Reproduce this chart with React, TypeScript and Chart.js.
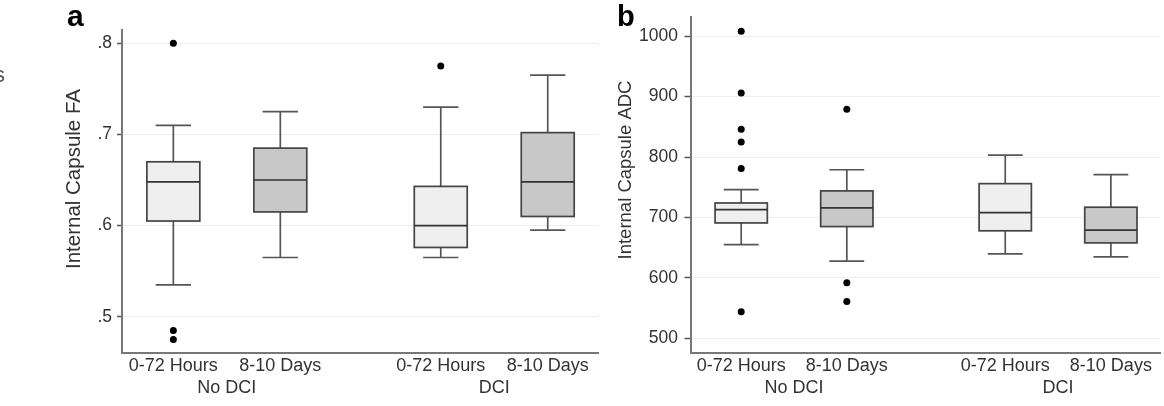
import React, { useEffect, useRef } from 'react';
import { Chart, registerables } from 'chart.js';

Chart.register(...registerables);

// ---------- data ----------
const positions = [1, 2, 3.5, 4.5];
const timeLabels = ['0-72 Hours', '8-10 Days', '0-72 Hours', '8-10 Days'];
const groupPositions = [1.5, 4];
const groupLabels = ['No DCI', 'DCI'];

// Panel a: Internal Capsule FA
const faTicks = [0.5, 0.6, 0.7, 0.8];
const faTickLabels = ['.5', '.6', '.7', '.8'];
const faLow = [0.535, 0.565, 0.565, 0.595];
const faQ1 = [0.605, 0.615, 0.576, 0.61];
const faMedian = [0.648, 0.65, 0.6, 0.648];
const faQ3 = [0.67, 0.685, 0.643, 0.702];
const faHigh = [0.71, 0.725, 0.73, 0.765];
const faOutlierX = [1, 1, 1, 3.5];
const faOutlierY = [0.8, 0.485, 0.475, 0.775];

// Panel b: Internal Capsule ADC
const adcTicks = [500, 600, 700, 800, 900, 1000];
const adcTickLabels = ['500', '600', '700', '800', '900', '1000'];
const adcLow = [655, 628, 640, 635];
const adcQ1 = [691, 685, 678, 658];
const adcMedian = [713, 716, 708, 679];
const adcQ3 = [724, 744, 756, 717];
const adcHigh = [746, 779, 803, 771];
const adcOutlierX = [1, 1, 1, 1, 1, 1, 2, 2, 2];
const adcOutlierY = [1008, 906, 846, 825, 781, 544, 879, 592, 561];

// ---------- styling ----------
const FONT = "'Liberation Sans', Arial, Helvetica, sans-serif";
const TEXT = '#333333';
const FILLS = ['#efefef', '#c8c8c8', '#efefef', '#c8c8c8'];
const BOX_W = 0.495;
const CAP_W = 0.33;

type BoxData = {
  low: number[]; q1: number[]; med: number[]; q3: number[]; high: number[];
};

function makeBoxPlugin(d: BoxData) {
  return {
    id: 'boxes',
    beforeDatasetsDraw(chart: any) {
      const { ctx } = chart;
      const xs = chart.scales.x;
      const ys = chart.scales.y;
      ctx.save();
      ctx.lineWidth = 1.7;
      ctx.lineCap = 'butt';
      positions.forEach((p, i) => {
        const cx = xs.getPixelForValue(p);
        const half = xs.getPixelForValue(p + BOX_W / 2) - cx;
        const cap = xs.getPixelForValue(p + CAP_W / 2) - cx;
        const yLow = ys.getPixelForValue(d.low[i]);
        const yQ1 = ys.getPixelForValue(d.q1[i]);
        const yMed = ys.getPixelForValue(d.med[i]);
        const yQ3 = ys.getPixelForValue(d.q3[i]);
        const yHigh = ys.getPixelForValue(d.high[i]);
        // whiskers
        ctx.strokeStyle = '#555555';
        ctx.beginPath();
        ctx.moveTo(cx, yQ3); ctx.lineTo(cx, yHigh);
        ctx.moveTo(cx - cap, yHigh); ctx.lineTo(cx + cap, yHigh);
        ctx.moveTo(cx, yQ1); ctx.lineTo(cx, yLow);
        ctx.moveTo(cx - cap, yLow); ctx.lineTo(cx + cap, yLow);
        ctx.stroke();
        // box
        ctx.fillStyle = FILLS[i];
        ctx.fillRect(cx - half, yQ3, 2 * half, yQ1 - yQ3);
        ctx.strokeStyle = '#444444';
        ctx.strokeRect(cx - half, yQ3, 2 * half, yQ1 - yQ3);
        // median
        ctx.strokeStyle = '#333333';
        ctx.beginPath();
        ctx.moveTo(cx - half, yMed); ctx.lineTo(cx + half, yMed);
        ctx.stroke();
      });
      ctx.restore();
    },
  };
}

type TextItem = { text: string; x: number; y: number; font: string; color: string; rotate?: boolean };

function makeTextPlugin(items: TextItem[]) {
  return {
    id: 'panelText',
    afterDraw(chart: any) {
      const { ctx } = chart;
      items.forEach((t) => {
        ctx.save();
        ctx.font = t.font;
        ctx.fillStyle = t.color;
        if (t.rotate) {
          ctx.translate(t.x, t.y);
          ctx.rotate(-Math.PI / 2);
          ctx.textAlign = 'center';
          ctx.textBaseline = 'middle';
          ctx.fillText(t.text, 0, 0);
        } else {
          ctx.textAlign = 'left';
          ctx.textBaseline = 'alphabetic';
          ctx.fillText(t.text, t.x, t.y);
        }
        ctx.restore();
      });
    },
  };
}

type PanelSpec = {
  box: BoxData;
  outX: number[];
  outY: number[];
  yTicks: number[];
  yTickLabels: string[];
  yMin: number;
  yMax: number;
  yWidth: number;
  tickLen: number;
  tickPad: number;
  padTop: number;
  padRight: number;
  texts: TextItem[];
};

function buildConfig(s: PanelSpec): any {
  return {
    type: 'scatter',
    data: {
      datasets: [
        {
          data: s.outX.map((x, i) => ({ x, y: s.outY[i] })),
          pointRadius: 3.5,
          pointHoverRadius: 3.5,
          backgroundColor: '#000000',
          borderWidth: 0,
        },
      ],
    },
    options: {
      animation: false,
      responsive: false,
      maintainAspectRatio: false,
      events: [],
      layout: { padding: { top: s.padTop, right: s.padRight, left: 0, bottom: 0 } },
      plugins: { legend: { display: false }, tooltip: { enabled: false } },
      scales: {
        x: {
          type: 'linear',
          position: 'bottom',
          weight: 0,
          min: 0.52,
          max: 4.97,
          afterBuildTicks: (sc: any) => { sc.ticks = positions.map((v) => ({ value: v })); },
          afterFit: (sc: any) => { sc.height = 24; },
          grid: { display: true, color: 'rgba(0,0,0,0)', drawTicks: false },
          border: { display: true, color: '#777777', width: 2 },
          ticks: {
            autoSkip: false,
            maxRotation: 0,
            minRotation: 0,
            padding: 2,
            color: TEXT,
            font: { family: FONT, size: 18 },
            callback: (_v: any, i: number) => timeLabels[i],
          },
        },
        x2: {
          type: 'linear',
          position: 'bottom',
          weight: 1,
          min: 0.52,
          max: 4.97,
          afterBuildTicks: (sc: any) => { sc.ticks = groupPositions.map((v) => ({ value: v })); },
          afterFit: (sc: any) => { sc.height = 29; },
          grid: { display: false, drawTicks: false },
          border: { display: false },
          ticks: {
            autoSkip: false,
            maxRotation: 0,
            minRotation: 0,
            padding: 0,
            color: TEXT,
            font: { family: FONT, size: 18 },
            callback: (_v: any, i: number) => groupLabels[i],
          },
        },
        y: {
          type: 'linear',
          position: 'left',
          min: s.yMin,
          max: s.yMax,
          afterBuildTicks: (sc: any) => { sc.ticks = s.yTicks.map((v) => ({ value: v })); },
          afterFit: (sc: any) => { sc.width = s.yWidth; },
          grid: {
            color: '#ebefef',
            lineWidth: 1,
            tickColor: '#555555',
            tickLength: s.tickLen,
            tickWidth: 1.5,
          },
          border: { display: true, color: '#777777', width: 2 },
          ticks: {
            padding: s.tickPad,
            color: TEXT,
            font: { family: FONT, size: 17.5 },
            callback: (_v: any, i: number) => s.yTickLabels[i],
          },
        },
      },
    },
    plugins: [makeBoxPlugin(s.box), makeTextPlugin(s.texts)],
  };
}

const panelA: PanelSpec = {
  box: { low: faLow, q1: faQ1, med: faMedian, q3: faQ3, high: faHigh },
  outX: faOutlierX,
  outY: faOutlierY,
  yTicks: faTicks,
  yTickLabels: faTickLabels,
  yMin: 0.4602,
  yMax: 0.8146,
  yWidth: 122,
  tickLen: 5,
  tickPad: 5,
  padTop: 30,
  padRight: 7,
  texts: [
    { text: 'a', x: 67, y: 26, font: `bold 30px ${FONT}`, color: '#000000' },
    { text: 's', x: -6, y: 82, font: `22px ${FONT}`, color: '#555555' },
    { text: 'Internal Capsule FA', x: 74, y: 179, font: `20.5px ${FONT}`, color: TEXT, rotate: true },
  ],
};

const panelB: PanelSpec = {
  box: { low: adcLow, q1: adcQ1, med: adcMedian, q3: adcQ3, high: adcHigh },
  outX: adcOutlierX,
  outY: adcOutlierY,
  yTicks: adcTicks,
  yTickLabels: adcTickLabels,
  yMin: 475.9,
  yMax: 1031.6,
  yWidth: 85.5,
  tickLen: 6,
  tickPad: 6.5,
  padTop: 13,
  padRight: 1,
  texts: [
    { text: 'b', x: 12, y: 26, font: `bold 29px ${FONT}`, color: '#000000' },
    { text: 'Internal Capsule ADC', x: 20.5, y: 170, font: `18.5px ${FONT}`, color: TEXT, rotate: true },
  ],
};

function Panel({ spec, left, width }: { spec: PanelSpec; left: number; width: number }) {
  const ref = useRef<HTMLCanvasElement>(null);
  useEffect(() => {
    const chart = new Chart(ref.current as HTMLCanvasElement, buildConfig(spec));
    return () => chart.destroy();
  }, [spec]);
  return (
    <canvas
      ref={ref}
      width={width}
      height={406}
      style={{ position: 'absolute', left, top: 0, width, height: 406, display: 'block' }}
    />
  );
}

export default function App() {
  return (
    <div
      style={{
        position: 'absolute',
        left: 0,
        top: 0,
        width: 1164,
        height: 406,
        background: '#ffffff',
        overflow: 'hidden',
      }}
    >
      <Panel spec={panelA} left={0} width={605} />
      <Panel spec={panelB} left={605} width={559} />
    </div>
  );
}
